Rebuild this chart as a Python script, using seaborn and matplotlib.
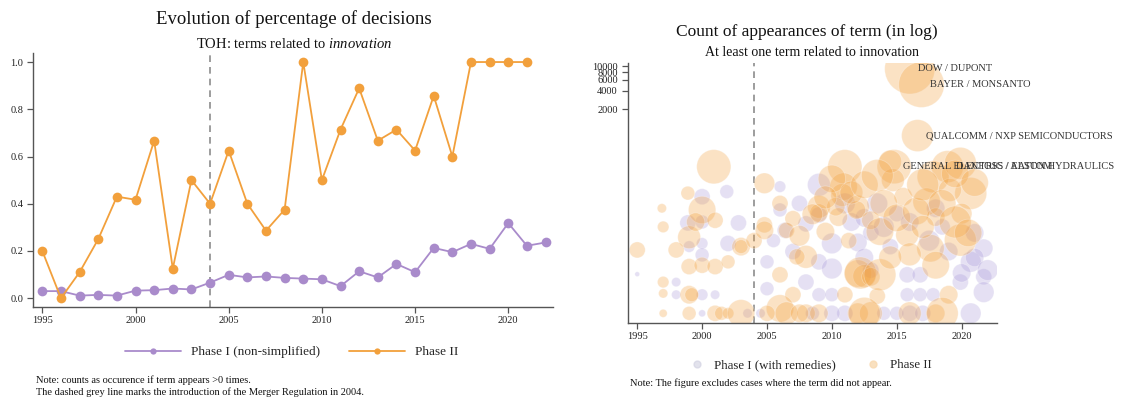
import numpy as np
import pandas as pd
import matplotlib
matplotlib.use("Agg")
import matplotlib.pyplot as plt
from matplotlib.lines import Line2D
import seaborn as sns

# ---- left panel: share of decisions mentioning innovation terms
years = list(range(1995, 2023))
phase1_share = [0.030, 0.030, 0.011, 0.014, 0.011, 0.032, 0.034, 0.041, 0.037, 0.066,
                0.099, 0.088, 0.092, 0.086, 0.083, 0.080, 0.051, 0.114, 0.088, 0.145,
                0.110, 0.213, 0.195, 0.230, 0.209, 0.318, 0.222, 0.236]
phase2_share = [0.20, 0.0, 0.11, 0.25, 0.43, 0.417, 0.667, 0.125, 0.50, 0.40,
                0.625, 0.40, 0.286, 0.375, 1.0, 0.50, 0.714, 0.889, 0.667, 0.714,
                0.625, 0.857, 0.60, 1.0, 1.0, 1.0, 1.0, np.nan]

# ---- right panel: count of term appearances per decision (bubbles)
p1_year = [2001.9, 2000.0, 1998.9, 2002.8, 1999.0, 2000.0, 2002.0, 2000.0, 1995.0, 1998.0,
           1998.0, 2000.0, 2001.0, 2000.0, 2000.0, 2003.5,
           2009.0, 2006.0, 2006.0, 2009.0, 2008.0, 2006.4, 2010.0, 2012.0, 2005.0, 2009.0,
           2010.0, 2008.0, 2005.0, 2009.0, 2010.0, 2011.0, 2004.5, 2008.5, 2010.0, 2007.0,
           2011.5, 2012.5, 2013.0,
           2013.5, 2015.0, 2021.7, 2020.7, 2015.8, 2016.8, 2019.9, 2021.7, 2021.7, 2015.8,
           2016.8, 2017.8, 2014.0, 2015.0, 2016.0, 2020.7, 2017.0, 2013.0, 2014.5, 2016.0,
           2018.5, 2020.0, 2021.0,
           2011.0, 2012.5, 2014.0, 2017.5, 2019.0, 2021.0, 2022.0, 2018.0, 2007.5, 2005.5]
p1_count = [93, 77, 29, 29, 12, 13.5, 13.5, 8.8, 4.3, 3.2,
            2, 2, 2, 1, 30, 1,
            120, 112, 47, 39, 28, 22, 13.5, 14, 6.8, 6.8,
            5.3, 3.2, 2.5, 2, 2, 1, 1, 1, 1, 10,
            30, 8, 20,
            60, 41, 11.3, 6.8, 4.2, 4.2, 3.2, 3.9, 2.2, 2,
            2, 2, 1, 1, 1, 1, 1, 5, 12, 30,
            25, 4.5, 8,
            60, 35, 25, 15, 10, 20, 5, 50, 60, 15]
p1_weight = [36, 49, 49, 49, 25, 25, 49, 36, 4, 16,
             16, 25, 16, 9, 36, 16,
             100, 25, 36, 49, 49, 49, 81, 64, 36, 49,
             81, 49, 36, 36, 36, 49, 16, 36, 49, 49,
             64, 64, 49,
             81, 49, 64, 81, 49, 49, 49, 49, 81, 36,
             36, 36, 36, 36, 49, 81, 49, 49, 49, 64,
             49, 64, 64,
             81, 64, 81, 81, 64, 64, 81, 64, 49, 36]

p2_year = [2000.9, 1998.9, 1996.9, 2000.0, 2001.0, 1997.0, 1999.0, 2003.0, 1995.0, 1998.0,
           1999.0, 2000.0, 2001.0, 2002.0, 1997.0, 1997.0, 1999.0, 1999.2, 1997.0, 1999.0,
           2001.0, 2001.5, 2002.0, 2003.0, 2003.0, 1999.5, 2004.0,
           2004.8, 2011.0, 2010.9, 2010.8, 2006.0, 2009.0, 2012.0, 2007.0, 2010.5, 2004.8,
           2004.8, 2009.5, 2008.0, 2012.0, 2012.5, 2006.0, 2007.0, 2011.0, 2006.0, 2006.5,
           2008.0, 2009.0, 2005.0, 2007.5, 2012.0, 2013.0, 2009.0, 2010.3, 2011.9, 2013.0,
           2006.5, 2007.3, 2011.3, 2012.2, 2013.0, 2013.5,
           2016.6, 2016.0, 2016.9, 2014.8, 2018.9, 2017.8, 2020.7, 2014.7, 2017.3, 2015.5,
           2019.1, 2018.0, 2020.0, 2019.9, 2013.7, 2015.8, 2017.6, 2013.7, 2019.0, 2018.0,
           2016.0, 2012.5, 2018.5, 2019.9, 2014.5,
           2010.0, 2011.5, 2012.5, 2013.5, 2014.0, 2015.0, 2016.5, 2017.0, 2018.5, 2019.5,
           2020.5, 2016.0, 2018.0, 2009.5, 2008.5, 2007.5, 2014.5, 2017.0, 2019.5, 2021.0]
p2_count = [235, 88, 50, 47, 32, 25, 17, 12, 10.6, 10.6,
            5.7, 6, 5.7, 6.8, 3.2, 2.1, 2, 2, 1, 1,
            1, 1, 1, 1, 12, 30, 15,
            127, 235, 112, 82, 60, 53, 53, 34, 36, 27,
            22, 21, 8.2, 4.4, 4.0, 4.2, 2, 2, 1.2, 1,
            1, 1, 1, 1, 1, 1, 42, 53, 47, 32,
            22, 8.2, 15, 4.5, 3.9, 1.9,
            750, 9000, 5000, 236, 236, 162, 87, 143, 64, 77,
            99, 36, 41, 15.3, 21, 18.5, 11.3, 4.2, 2, 1,
            1, 1, 1, 267, 285,
            150, 90, 120, 170, 60, 35, 45, 120, 60, 30,
            20, 9, 6, 75, 40, 18, 8, 25, 180, 130]
p2_weight = [225, 36, 16, 144, 49, 25, 100, 64, 49, 49,
             49, 49, 49, 36, 25, 16, 64, 36, 12, 36,
             49, 36, 25, 144, 36, 64, 49,
             81, 225, 144, 100, 49, 100, 100, 49, 64, 49,
             64, 64, 100, 144, 100, 49, 49, 49, 144, 100,
             64, 64, 49, 64, 81, 100, 64, 64, 64, 64,
             49, 49, 49, 196, 64, 49,
             196, 484, 400, 225, 196, 196, 196, 100, 144, 64,
             100, 64, 81, 196, 144, 100, 144, 196, 64, 64,
             100, 196, 196, 196, 100,
             144, 100, 144, 196, 144, 144, 144, 196, 144, 196,
             144, 100, 144, 100, 81, 81, 100, 100, 144, 144]

label_names = ["DOW / DUPONT", "BAYER / MONSANTO", "QUALCOMM / NXP SEMICONDUCTORS",
               "GENERAL ELECTRIC / ALSTOM", "DANFOSS / EATON HYDRAULICS"]
label_years = [2016.0, 2016.9, 2016.6, 2014.8, 2018.9]
label_counts = [9000, 5000, 750, 236, 236]

purple = "#a98bcb"
orange = "#f2a03c"
bub_purple = "#a99ad9"

sns.set_theme(style="ticks")
plt.rcParams["font.family"] = ["Liberation Serif", "DejaVu Serif"]
plt.rcParams["mathtext.fontset"] = "custom"
plt.rcParams["mathtext.rm"] = "Liberation Serif"
plt.rcParams["mathtext.it"] = "Liberation Serif:italic"

W, H = 1137, 401
fig = plt.figure(figsize=(W / 100, H / 100), dpi=100)
ax1 = fig.add_axes([33 / W, (H - 306.7) / H, 520 / W, (306.7 - 53.3) / H])
ax2 = fig.add_axes([627.5 / W, (H - 322.7) / H, 369.2 / W, (322.7 - 63) / H])

# left panel
share = pd.DataFrame({
    "year": years * 2,
    "share": phase1_share + phase2_share,
    "phase": ["Phase I (non-simplified)"] * len(years) + ["Phase II"] * len(years),
})
sns.lineplot(data=share, x="year", y="share", hue="phase",
             palette=[purple, orange], marker="o", markersize=7,
             markeredgewidth=0, linewidth=1.3, ax=ax1, legend=False)
ax1.axvline(2004, color="#8c8c8c", ls=(0, (4, 3)), lw=1.2, zorder=0)
ax1.set_xlim(1994.5, 2022.4)
ax1.set_ylim(-0.036, 1.037)
ax1.set_xticks(range(1995, 2021, 5))
ax1.set_yticks(np.arange(0, 1.01, 0.2))
ax1.set_yticklabels([f"{v:.1f}" for v in np.arange(0, 1.01, 0.2)])
ax1.set_xlabel("")
ax1.set_ylabel("")

h1 = [Line2D([], [], color=purple, marker="o", markersize=4.5, markeredgewidth=0, lw=1.3),
      Line2D([], [], color=orange, marker="o", markersize=4.5, markeredgewidth=0, lw=1.3)]
fig.legend(h1, ["Phase I (non-simplified)", "Phase II"], loc="center",
           bbox_to_anchor=(292 / W, 1 - 352 / H), ncol=2, frameon=False,
           fontsize=9.5, handlelength=4.2, columnspacing=2.2, handletextpad=0.8)

# right panel
bub = pd.DataFrame({
    "year": p1_year + p2_year,
    "count": p1_count + p2_count,
    "weight": p1_weight + p2_weight,
    "phase": ["Phase I"] * len(p1_year) + ["Phase II"] * len(p2_year),
})
sns.scatterplot(data=bub, x="year", y="count", hue="phase", size="weight",
                sizes=(12, 1300), size_norm=(4, 484),
                palette=[bub_purple, orange], alpha=0.3, linewidth=0.6,
                ax=ax2, legend=False)
ax2.set_yscale("log")
ax2.axvline(2004, color="#8c8c8c", ls=(0, (4, 3)), lw=1.2, zorder=0)
ax2.set_xlim(1994.25, 2022.7)
ax2.set_ylim(0.705, 11200)
ax2.set_xticks(range(1995, 2021, 5))
ax2.set_yticks([2000, 4000, 6000, 8000, 10000])
ax2.set_yticklabels(["2000", "4000", "6000", "8000", "10000"])
ax2.yaxis.set_minor_locator(matplotlib.ticker.NullLocator())
ax2.set_xlabel("")
ax2.set_ylabel("")
for name, x, y in zip(label_names, label_years, label_counts):
    ax2.annotate(name, (x, y), xytext=(6, 0), textcoords="offset points",
                 va="center", ha="left", fontsize=7.5, color="#333333",
                 annotation_clip=False)

h2 = [Line2D([], [], ls="", marker="o", markersize=5, color="#cfcfe0", alpha=0.6),
      Line2D([], [], ls="", marker="o", markersize=5, color="#f8d9b0", alpha=0.8)]
fig.legend(h2, ["Phase I (with remedies)", "Phase II"], loc="center",
           bbox_to_anchor=(811 / W, 1 - 365 / H), ncol=2, frameon=False,
           fontsize=9.3, handlelength=1.0, columnspacing=2.4, handletextpad=0.8)

for ax in (ax1, ax2):
    sns.despine(ax=ax)
    for s in ("left", "bottom"):
        ax.spines[s].set_color("#555555")
        ax.spines[s].set_linewidth(1.0)
    ax.tick_params(axis="both", colors="#555555", labelcolor="#222222",
                   labelsize=7.5, length=4, width=0.9, pad=3)
    ax.set_facecolor("white")

# titles and notes
fig.text(293.8 / W, 1 - 19 / H, "Evolution of percentage of decisions",
         ha="center", va="center", fontsize=13.5, color="#111111")
fig.text(293.8 / W, 1 - 44 / H, r"TOH: terms related to $\mathit{innovation}$",
         ha="center", va="center", fontsize=10.5, color="#111111")
fig.text(806.5 / W, 1 - 32 / H, "Count of appearances of term (in log)",
         ha="center", va="center", fontsize=12.5, color="#111111")
fig.text(811.8 / W, 1 - 53 / H, "At least one term related to innovation",
         ha="center", va="center", fontsize=10, color="#111111")
fig.text(36 / W, 1 - 380 / H, "Note: counts as occurence if term appears >0 times.",
         ha="left", va="center", fontsize=7.5, color="#111111")
fig.text(36 / W, 1 - 392 / H,
         "The dashed grey line marks the introduction of the Merger Regulation in 2004.",
         ha="left", va="center", fontsize=7.5, color="#111111")
fig.text(630 / W, 1 - 383 / H,
         "Note: The figure excludes cases where the term did not appear.",
         ha="left", va="center", fontsize=7.5, color="#111111")

fig.savefig("out.png", dpi=100, facecolor="white")
